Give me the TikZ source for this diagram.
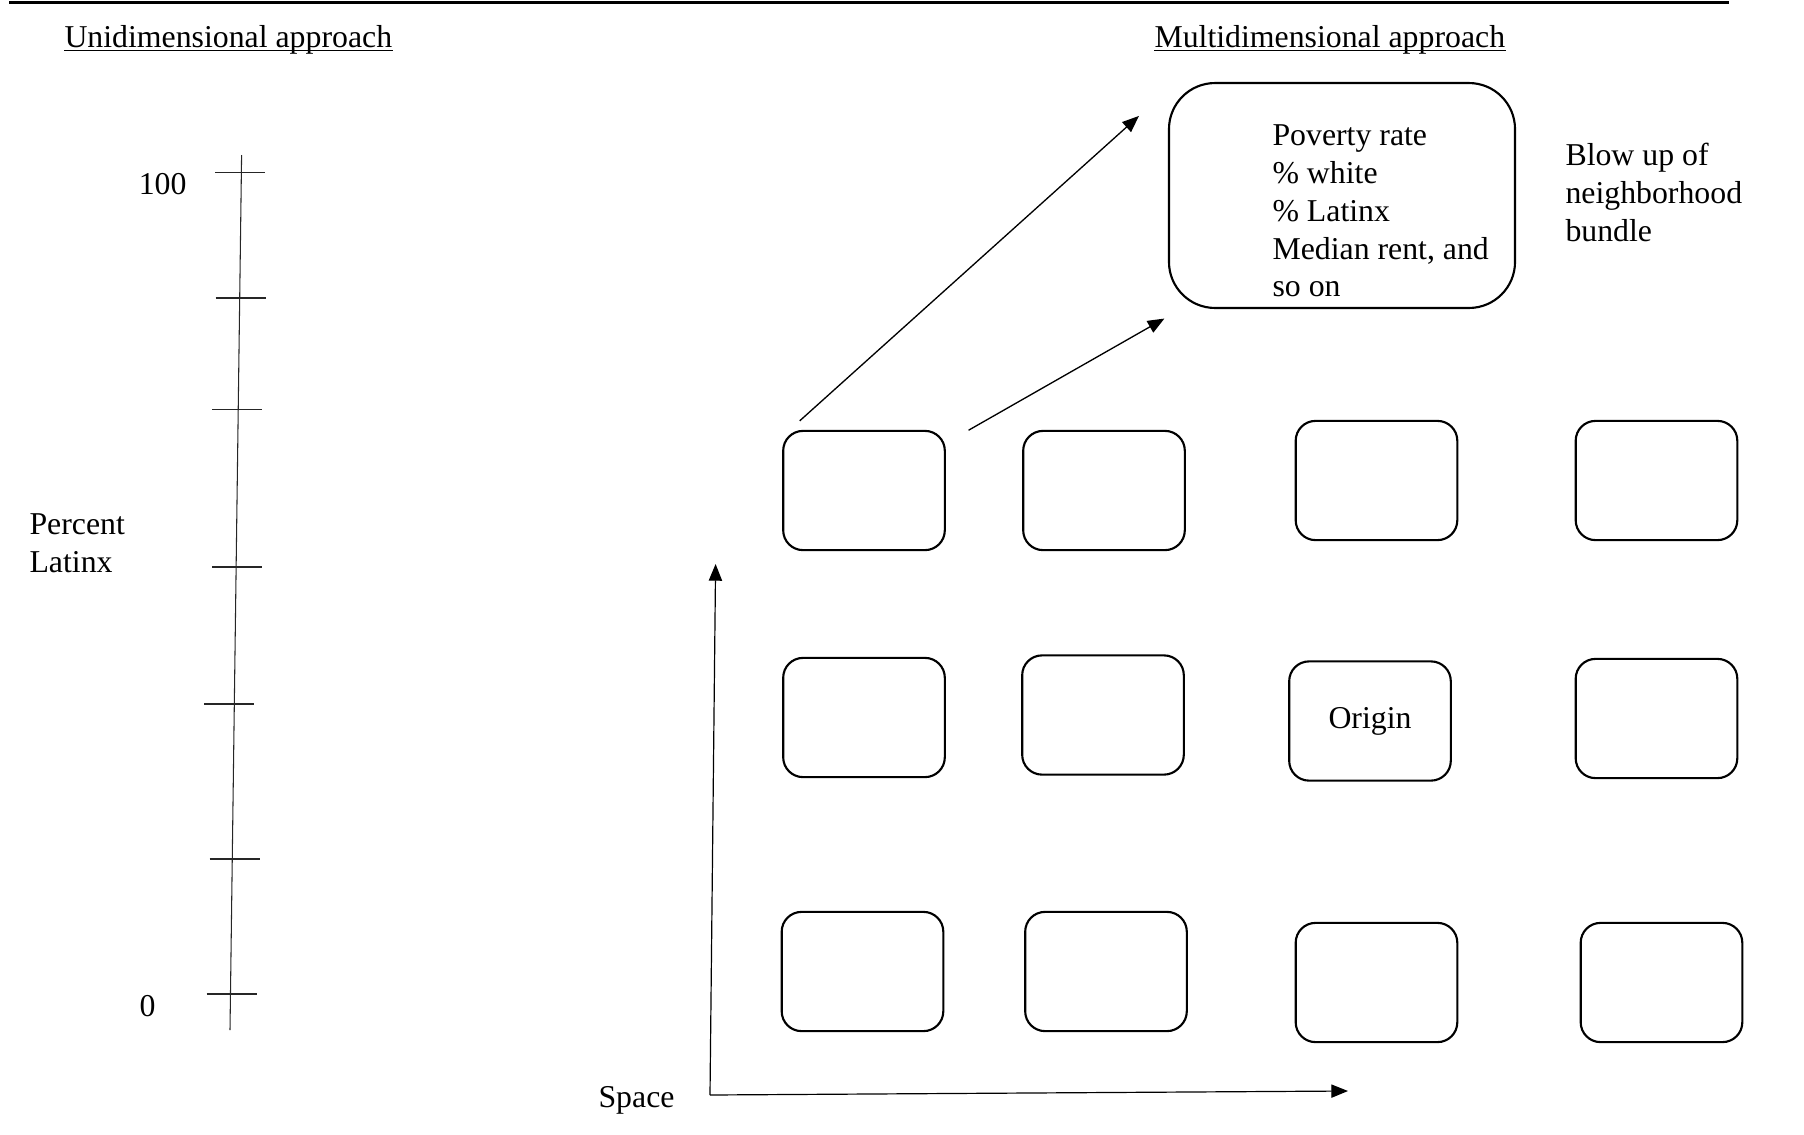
\documentclass[tikz,border=0pt]{standalone}
\usepackage{fontspec}
\setmainfont{Liberation Serif}
\usetikzlibrary{calc,positioning,arrows.meta}
\definecolor{LineBlack}{HTML}{000000}
\definecolor{AxisGray}{HTML}{262626}

\begin{document}
\begin{tikzpicture}[x=0.3774pt, y=-0.3774pt,
    every node/.style={font=\fontsize{12}{14.3}\selectfont, inner sep=0pt},
    nbhd/.style={draw=LineBlack, line width=0.8pt, rounded corners=7.5pt,
                 minimum width=61pt, minimum height=45pt},
    arr/.style={-{Triangle[length=6.3pt,width=5pt]}, line width=0.5pt, LineBlack}]
  \useasboundingbox (0,0) rectangle (1804,1134);
  % rule at the top
  \draw[line width=1pt] (9,2.5) -- (1729,2.5);
  % headings
  \node[anchor=base west] (unihead) at (64,47) {Unidimensional approach};
  \node[anchor=base west] (multihead) at (1154,47) {Multidimensional approach};
  \draw[line width=0.45pt] ($(unihead.base west)+(0,3.5)$) -- ($(unihead.base east)+(0,3.5)$);
  \draw[line width=0.45pt] ($(multihead.base west)+(0,3.5)$) -- ($(multihead.base east)+(0,3.5)$);
  % percent Latinx scale
  \draw[AxisGray, line width=0.4pt] (241.6,155) -- (230,1030);
  \foreach \ty/\tx in {172.6/240, 298/240.5, 409.6/237, 567/237, 704/229, 859/234.5, 994/231.5}
    \draw[AxisGray, line width=0.4pt] (\tx-25,\ty) -- (\tx+25,\ty);
  \node[anchor=base east] (top) at (187,194) {100};
  \node[anchor=base east] (bottom) at (156,1016) {0};
  \node[anchor=north west, align=left] (pctlabel) at (29,513) {Percent\\Latinx};
  % space axes
  \coordinate (orig) at (710,1095);
  \coordinate (yend) at (715.6,564);
  \coordinate (xend) at (1348,1091);
  \draw[arr, line width=0.45pt] (orig) -- (yend);
  \draw[arr, line width=0.45pt] (orig) -- (xend);
  \node[anchor=base east] (space) at (675,1107) {Space};
  % neighborhoods
  \node[nbhd] (a1) at (864,490.5) {};
  \node[nbhd] (a2) at (1104,490.5) {};
  \node[nbhd] (a3) at (1376.5,480.5) {};
  \node[nbhd] (a4) at (1656.5,480.5) {};
  \node[nbhd] (b1) at (864,717.5) {};
  \node[nbhd] (b2) at (1103,715) {};
  \node[nbhd] (b3) at (1370,721) {Origin};
  \node[nbhd] (b4) at (1656.5,718.5) {};
  \node[nbhd] (c1) at (862.5,971.5) {};
  \node[nbhd] (c2) at (1106,971.5) {};
  \node[nbhd] (c3) at (1376.5,982.5) {};
  \node[nbhd] (c4) at (1661.5,982.5) {};
  % blow up
  \node[draw, line width=0.8pt, rounded corners=17.4pt, minimum width=130.6pt, minimum height=84.9pt] (blow) at (1342,195.5) {};
  \node[anchor=north west, align=left] (blowtext) at (1272,124) {Poverty rate\\\% white\\\% Latinx\\Median rent, and\\so on};
  \node[anchor=north west, align=left] (blowlabel) at (1565,143) {Blow up of\\neighborhood\\bundle};
  \draw[arr] ($(a1.north west)+(17.6,-9)$) -- ($(blow.north west)+(-29,34)$);
  \draw[arr] ($(a1.north east)+(22.7,0.4)$) -- ($(blow.south west)+(-3.5,9.5)$);
\end{tikzpicture}
\end{document}
